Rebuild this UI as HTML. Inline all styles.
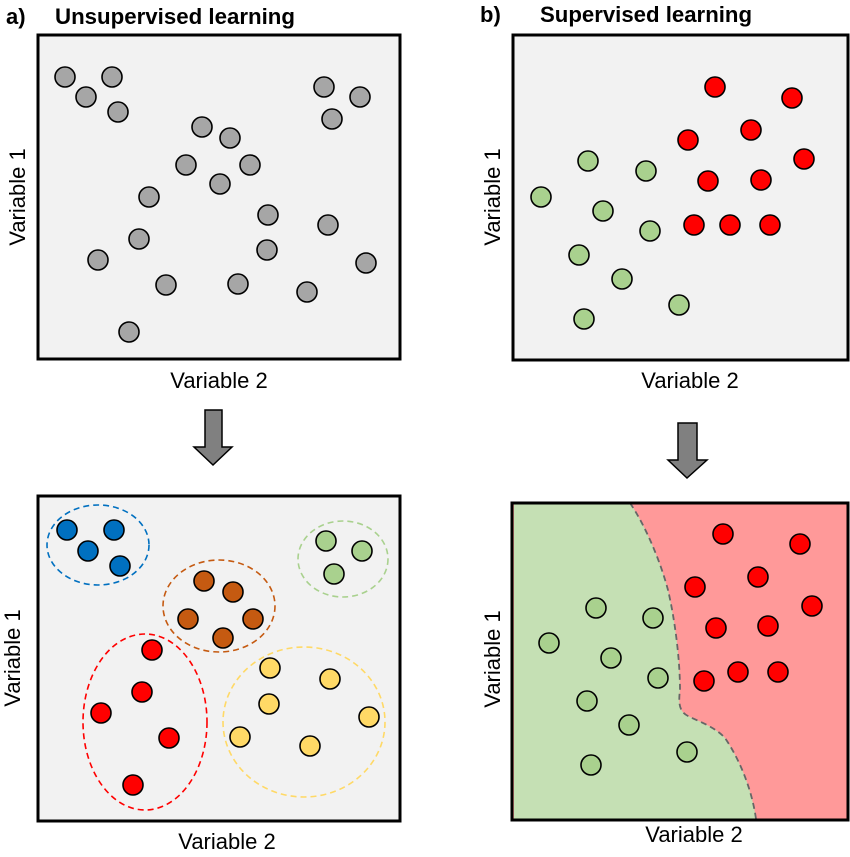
<!DOCTYPE html>
<html><head><meta charset="utf-8"><style>body{margin:0;background:#fff}svg{display:block}</style></head><body>
<svg width="850" height="857" viewBox="0 0 850 857" xmlns="http://www.w3.org/2000/svg" font-family="Liberation Sans, Arial, sans-serif">
<g font-weight="bold" font-size="22" fill="#000">
<text x="6" y="24">a)</text><text x="55" y="24" textLength="240" lengthAdjust="spacingAndGlyphs">Unsupervised learning</text>
<text x="480" y="22">b)</text><text x="540" y="22" textLength="212" lengthAdjust="spacingAndGlyphs">Supervised learning</text>
</g>
<g font-size="22" fill="#000" text-anchor="middle">
<text x="219" y="388">Variable 2</text>
<text x="690" y="388">Variable 2</text>
<text x="227" y="849">Variable 2</text>
<text x="694" y="842">Variable 2</text>
<text transform="translate(25,197) rotate(-90)">Variable 1</text>
<text transform="translate(500,197) rotate(-90)">Variable 1</text>
<text transform="translate(20,658) rotate(-90)">Variable 1</text>
<text transform="translate(500,659) rotate(-90)">Variable 1</text>
</g>
<rect x="38" y="35" width="362" height="324" fill="#f2f2f2" stroke="#000" stroke-width="3"/>
<g fill="#a6a6a6" stroke="#000" stroke-width="1.6">
<circle cx="65" cy="77" r="10"/><circle cx="112" cy="77" r="10"/><circle cx="86" cy="97" r="10"/><circle cx="118" cy="112" r="10"/>
<circle cx="202" cy="127" r="10"/><circle cx="230" cy="138" r="10"/><circle cx="186" cy="165" r="10"/><circle cx="250" cy="165" r="10"/>
<circle cx="220" cy="184" r="10"/><circle cx="149" cy="197" r="10"/><circle cx="268" cy="215" r="10"/><circle cx="139" cy="239" r="10"/>
<circle cx="267" cy="250" r="10"/><circle cx="98" cy="260" r="10"/><circle cx="166" cy="285" r="10"/><circle cx="238" cy="284" r="10"/>
<circle cx="307" cy="292" r="10"/><circle cx="129" cy="332" r="10"/><circle cx="324" cy="87" r="10"/><circle cx="360" cy="97" r="10"/>
<circle cx="332" cy="119" r="10"/><circle cx="328" cy="225" r="10"/><circle cx="366" cy="263" r="10"/>
</g>
<rect x="513" y="35" width="335" height="325" fill="#f2f2f2" stroke="#000" stroke-width="3"/>
<g fill="#ff0000" stroke="#000" stroke-width="1.6">
<circle cx="715" cy="87" r="10"/><circle cx="792" cy="98" r="10"/><circle cx="751" cy="130" r="10"/><circle cx="688" cy="140" r="10"/>
<circle cx="804" cy="159" r="10"/><circle cx="708" cy="181" r="10"/><circle cx="761" cy="180" r="10"/><circle cx="694" cy="225" r="10"/>
<circle cx="730" cy="225" r="10"/><circle cx="770" cy="225" r="10"/>
</g>
<g fill="#a9d18e" stroke="#000" stroke-width="1.6">
<circle cx="588" cy="161" r="10"/><circle cx="646" cy="171" r="10"/><circle cx="541" cy="197" r="10"/><circle cx="603" cy="211" r="10"/>
<circle cx="650" cy="231" r="10"/><circle cx="579" cy="255" r="10"/><circle cx="622" cy="279" r="10"/><circle cx="679" cy="305" r="10"/>
<circle cx="584" cy="319" r="10"/>
</g>
<path d="M205,410 H222 V447 H232 L213,465 L194,447 H205 Z" fill="#808080" stroke="#000" stroke-width="1.5"/>
<path d="M678,423 H697 V460 H707 L687,478 L668,460 H678 Z" fill="#808080" stroke="#000" stroke-width="1.5"/>
<rect x="38" y="496" width="362" height="325" fill="#f2f2f2" stroke="#000" stroke-width="3"/>
<g fill="none" stroke-width="1.6" stroke-dasharray="6,4">
<ellipse cx="98" cy="545" rx="51" ry="40" stroke="#0070c0"/>
<ellipse cx="219" cy="606" rx="56" ry="46" stroke="#c55a11"/>
<ellipse cx="343" cy="559" rx="45" ry="38" stroke="#a9d18e"/>
<ellipse cx="145" cy="722" rx="62" ry="88" stroke="#ff0000"/>
<ellipse cx="304" cy="722" rx="81" ry="75" stroke="#ffd966"/>
</g>
<g stroke="#000" stroke-width="1.6">
<g fill="#0070c0"><circle cx="67" cy="530" r="10"/><circle cx="114" cy="530" r="10"/><circle cx="88" cy="551" r="10"/><circle cx="120" cy="566" r="10"/></g>
<g fill="#c55a11"><circle cx="204" cy="581" r="10"/><circle cx="233" cy="592" r="10"/><circle cx="188" cy="619" r="10"/><circle cx="253" cy="619" r="10"/><circle cx="223" cy="638" r="10"/></g>
<g fill="#a9d18e"><circle cx="326" cy="541" r="10"/><circle cx="362" cy="551" r="10"/><circle cx="334" cy="574" r="10"/></g>
<g fill="#ff0000"><circle cx="152" cy="650" r="10"/><circle cx="142" cy="692" r="10"/><circle cx="101" cy="713" r="10"/><circle cx="169" cy="738" r="10"/><circle cx="133" cy="785" r="10"/></g>
<g fill="#ffd966"><circle cx="270" cy="668" r="10"/><circle cx="330" cy="679" r="10"/><circle cx="269" cy="704" r="10"/><circle cx="369" cy="717" r="10"/><circle cx="240" cy="737" r="10"/><circle cx="310" cy="746" r="10"/></g>
</g>
<rect x="512" y="503" width="336" height="317" fill="#ff9999"/>
<path d="M514,503 L630,503 C645,525 660,560 668,590 C675,620 680,660 680,690 C678,705 680,712 688,716 C700,722 715,727 725,738 C740,760 752,790 756,819 L514,819 Z" fill="#c5e0b4"/>
<path d="M630,503 C645,525 660,560 668,590 C675,620 680,660 680,690 C678,705 680,712 688,716 C700,722 715,727 725,738 C740,760 752,790 756,819" fill="none" stroke="#666" stroke-width="1.8" stroke-dasharray="6,4"/>
<rect x="512" y="503" width="336" height="317" fill="none" stroke="#000" stroke-width="3"/>
<g stroke="#000" stroke-width="1.6">
<g fill="#ff0000"><circle cx="723" cy="534" r="10"/><circle cx="800" cy="544" r="10"/><circle cx="758" cy="577" r="10"/><circle cx="695" cy="587" r="10"/><circle cx="812" cy="606" r="10"/><circle cx="716" cy="628" r="10"/><circle cx="768" cy="626" r="10"/><circle cx="704" cy="681" r="10"/><circle cx="738" cy="672" r="10"/><circle cx="778" cy="672" r="10"/></g>
<g fill="#a9d18e"><circle cx="596" cy="608" r="10"/><circle cx="653" cy="618" r="10"/><circle cx="549" cy="643" r="10"/><circle cx="611" cy="658" r="10"/><circle cx="658" cy="678" r="10"/><circle cx="587" cy="701" r="10"/><circle cx="629" cy="725" r="10"/><circle cx="687" cy="752" r="10"/><circle cx="591" cy="765" r="10"/></g>
</g>
</svg>
</body></html>
